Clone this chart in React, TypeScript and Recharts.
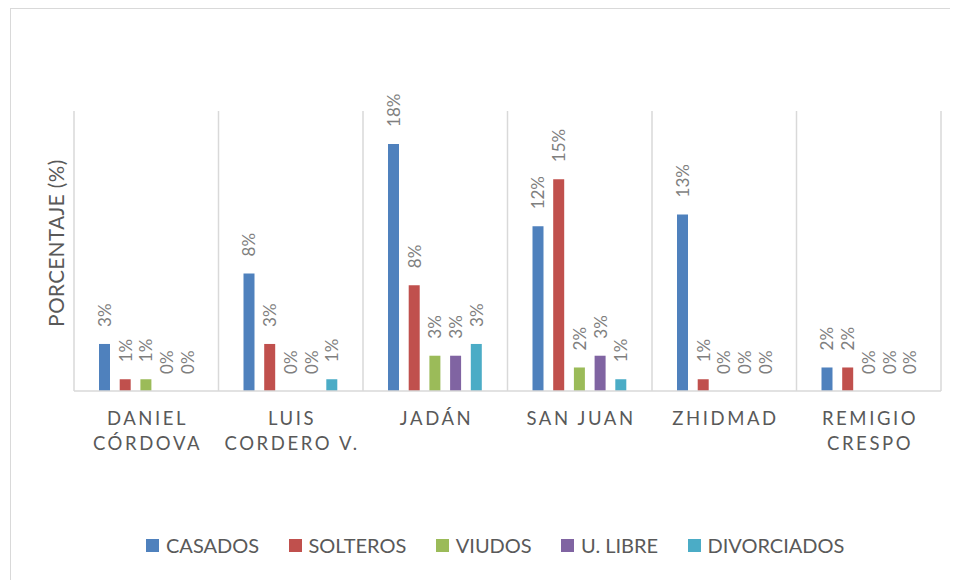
import React from "react";
import { BarChart, Bar, XAxis, YAxis, CartesianGrid, LabelList } from "recharts";

const CATEGORIES = ["DANIEL\nCÓRDOVA", "LUIS\nCORDERO V.", "JADÁN", "SAN JUAN", "ZHIDMAD", "REMIGIO\nCRESPO"];
const CASADOS = [3.36, 8.4, 17.65, 11.76, 12.61, 1.68];
const SOLTEROS = [0.84, 3.36, 7.56, 15.13, 0.84, 1.68];
const VIUDOS = [0.84, 0, 2.52, 1.68, 0, 0];
const U_LIBRE = [0, 0, 2.52, 2.52, 0, 0];
const DIVORCIADOS = [0, 0.84, 3.36, 0.84, 0, 0];

const SERIES = [
  { key: "casados", name: "CASADOS", color: "#4F81BD", values: CASADOS },
  { key: "solteros", name: "SOLTEROS", color: "#C0504D", values: SOLTEROS },
  { key: "viudos", name: "VIUDOS", color: "#9BBB59", values: VIUDOS },
  { key: "ulibre", name: "U. LIBRE", color: "#8064A2", values: U_LIBRE },
  { key: "divorciados", name: "DIVORCIADOS", color: "#4BACC6", values: DIVORCIADOS },
];

const data = CATEGORIES.map((cat, i) => {
  const row: any = { cat };
  SERIES.forEach((s) => (row[s.key] = s.values[i]));
  return row;
});

const FONT = "Lato, 'Open Sans', sans-serif";
const TEXT = "#595959";
const GRID = "#D9D9D9";
const X_AXIS_H = 30;
const MARGIN = { top: 111, right: 17, bottom: 189 - X_AXIS_H, left: 74 };

const CatTick = (props: any) => {
  const { x, y, payload } = props;
  const lines = String(payload.value).split("\n");
  return (
    <text x={x} y={y} textAnchor="middle" fill={TEXT} fontSize={18.5} fontFamily={FONT} letterSpacing={2.6}>
      {lines.map((l, i) => (
        <tspan key={i} x={x + 1.3} dy={i === 0 ? 34 : 25}>
          {l}
        </tspan>
      ))}
    </text>
  );
};

const renderLabel = (props: any) => {
  const vb = props.viewBox || {};
  const x = props.x ?? vb.x;
  const y = props.y ?? vb.y;
  const width = props.width ?? vb.width;
  const height = props.height ?? vb.height ?? 0;
  const value = props.value;
  if (x == null || y == null || isNaN(Number(x)) || isNaN(Number(y))) return null;
  const cx = Number(x) + Number(width) / 2;
  const top = Math.min(Number(y), Number(y) + Number(height));
  const ty = top - 17;
  return (
    <text
      x={cx}
      y={ty}
      transform={`rotate(-90 ${cx} ${ty})`}
      textAnchor="start"
      dominantBaseline="central"
      fill="#7F7F7F"
      fontSize={17}
      fontFamily={FONT}
    >
      {Math.round(Number(value))}%
    </text>
  );
};

const vGen = (args: any) => {
  const off = args && args.offset ? args.offset : null;
  const left = off ? off.left : MARGIN.left;
  const w = off ? off.width : 958 - MARGIN.left - MARGIN.right;
  const n = CATEGORIES.length;
  return Array.from({ length: n + 1 }, (_, i) => left + (w * i) / n);
};

export default function App() {
  return (
    <div
      style={{
        position: "relative",
        width: 958,
        height: 580,
        margin: "-8px 0 0 -8px",
        overflow: "hidden",
        background: "#fff",
        fontFamily: FONT,
      }}
    >
      <div
        style={{
          position: "absolute",
          left: 10,
          top: 8,
          width: 1000,
          height: 1000,
          border: `1.5px solid ${GRID}`,
        }}
      />
      <div style={{ position: "absolute", left: 0, top: 0 }}>
        <BarChart width={958} height={580} data={data} margin={MARGIN} barSize={11} barGap={9.7}>
          <CartesianGrid horizontal={false} vertical stroke={GRID} strokeWidth={1.5} verticalCoordinatesGenerator={vGen} />
          <XAxis
            dataKey="cat"
            height={X_AXIS_H}
            axisLine={{ stroke: GRID, strokeWidth: 1.5 }}
            tickLine={false}
            tickSize={0}
            tickMargin={0}
            interval={0}
            tick={<CatTick />}
          />
          <YAxis hide domain={[0, 20]} width={0} />
          {SERIES.map((s) => (
            <Bar key={s.key} dataKey={s.key} name={s.name} fill={s.color} minPointSize={0.01} isAnimationActive={false}>
              <LabelList dataKey={s.key} content={renderLabel} />
            </Bar>
          ))}
        </BarChart>
      </div>
      <div
        style={{
          position: "absolute",
          left: 56,
          top: 243,
          transform: "translate(-50%, -50%) rotate(-90deg)",
          whiteSpace: "nowrap",
          fontSize: 20.5,
          letterSpacing: 0.5,
          color: TEXT,
          fontFamily: FONT,
        }}
      >
        PORCENTAJE (%)
      </div>
      <div
        style={{
          position: "absolute",
          left: 146,
          top: 533,
          height: 24,
          display: "flex",
          alignItems: "center",
          fontFamily: FONT,
          fontSize: 20,
          color: TEXT,
          whiteSpace: "nowrap",
        }}
      >
        {SERIES.map((s, i) => (
          <div key={s.key} style={{ display: "flex", alignItems: "center", marginRight: i < SERIES.length - 1 ? 29.4 : 0 }}>
            <span style={{ display: "inline-block", width: 13, height: 13, background: s.color, marginRight: 7 }} />
            <span>{s.name}</span>
          </div>
        ))}
      </div>
    </div>
  );
}
